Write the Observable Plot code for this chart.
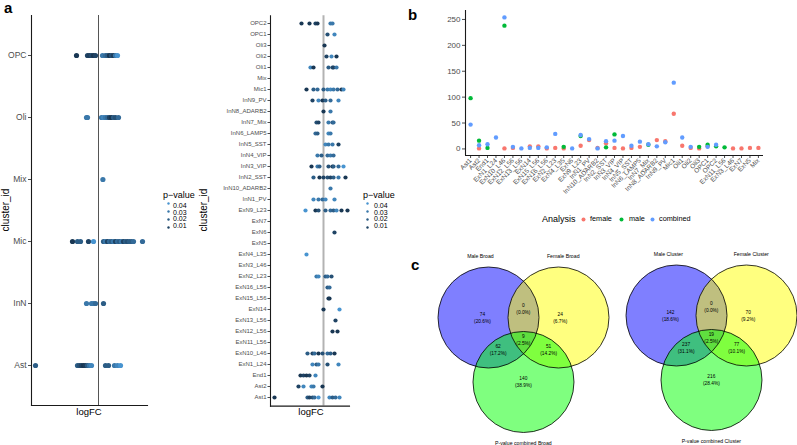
<!DOCTYPE html>
<html><head><meta charset="utf-8">
<script src="https://cdn.jsdelivr.net/npm/d3@7"></script>
<script src="https://cdn.jsdelivr.net/npm/@observablehq/plot@0.6"></script>
<style>
body{margin:0;width:797px;height:445px;overflow:hidden;background:#fff;position:relative;font-family:"Liberation Sans",Arial,sans-serif;}
.abs{position:absolute;}
.t{position:absolute;white-space:nowrap;line-height:1;color:#000;}
</style></head><body>
<script>
// ---------- Panel a (broad clusters) ----------
const broadClusters = ["OPC","Oli","Mix","Mic","InN","Ast"];
const broadLogFC = [
 [-1.1,-0.55,-0.45,-0.35,-0.25,-0.15,0.2,0.35,0.45,0.55,0.65,0.75,0.85,0.95],
 [-0.6,-0.55,0.15,0.25,0.35,0.45,0.55,0.65,0.75,0.85,1.0],
 [0.22],
 [-1.3,-1.05,-0.9,-0.5,-0.25,0.25,0.35,0.45,0.55,0.65,0.75,0.85,0.95,1.05,1.15,1.25,1.35,1.45,1.55,1.65,1.75,2.2],
 [-0.6,-0.35,-0.25,-0.15,0.25],
 [-3.15,-1.05,-0.95,-0.85,-0.75,-0.65,-0.55,-0.45,-0.35,0.35,0.5,0.8,0.95,1.1]
];
const broadP = [
 [0.005,0.01,0.008,0.012,0.005,0.01,0.03,0.025,0.02,0.005,0.015,0.008,0.03,0.04],
 [0.03,0.03,0.03,0.035,0.03,0.025,0.01,0.005,0.02,0.015,0.025],
 [0.03],
 [0.005,0.02,0.02,0.01,0.04,0.02,0.03,0.01,0.025,0.02,0.03,0.01,0.025,0.02,0.03,0.01,0.02,0.015,0.02,0.02,0.025,0.025],
 [0.03,0.03,0.03,0.025,0.02],
 [0.02,0.02,0.015,0.01,0.005,0.008,0.02,0.03,0.035,0.02,0.02,0.03,0.035,0.04]
];

// ---------- Panel a (sub clusters) ----------
const subClusters = ["OPC2","OPC1","Oli3","Oli2","Oli1","Mix","Mic1","InN9_PV","InN8_ADARB2","InN7_Mix","InN6_LAMP5","InN5_SST","InN4_VIP","InN3_VIP","InN2_SST","InN10_ADARB2","InN1_PV","ExN9_L23","ExN7","ExN6","ExN5","ExN4_L35","ExN3_L46","ExN2_L23","ExN16_L56","ExN15_L56","ExN14","ExN13_L56","ExN12_L56","ExN11_L56","ExN10_L46","ExN1_L24","End1","Ast2","Ast1"];
const subLogFC = [
 [-1.1,-0.7,-0.4,-0.3,0.35,0.45],
 [0.2,0.55],
 [0.05],
 [0.15,0.4,0.65],
 [-0.65,-0.5,0.25,0.45,0.5,0.65],
 [],
 [-0.85,-0.5,-0.3,0,0.2,0.35,0.5,0.7,0.9,1.0],
 [-0.55,-0.25,-0.05,0.1,0.35,0.75],
 [0,0.35],
 [-0.35,-0.25,0.25,0.45,0.5],
 [-0.4,-0.3,0.25,0.35],
 [0.1,0.25,0.45,0.75],
 [-0.3,-0.1,0.2,0.35,0.5],
 [-0.6,-0.3,-0.2,0.25,0.45,0.5,0.75,1.0],
 [-0.5,-0.2,0,0.2,0.35,0.5,0.75,1.1],
 [0.35],
 [-0.5,-0.25,-0.05,0.1,0.55],
 [-0.9,-0.4,-0.25,0.1,0.35,0.5,0.65,0.9,1.2],
 [],
 [0.55],
 [],
 [-0.85],
 [],
 [-0.35,-0.25,0.1,0.2,0.4],
 [0.2,0.3],
 [0.25,0.3],
 [0,0.8],
 [0.6],
 [0.45,0.7],
 [],
 [-0.8,-0.55,-0.45,-0.25,-0.05,0.2,0.35,0.55],
 [-0.55,-0.35,-0.25,0.2,0.75],
 [-1.15,-1.0,-0.85,-0.7,-0.4],
 [-1.25,-1.0,-0.6,-0.5,-0.05],
 [-2.45,-0.8,-0.7,-0.55,-0.45,-0.25,0.3,0.45,0.6,0.8]
];
const subP = [
 [0.005,0.005,0.01,0.005,0.03,0.03],
 [0.015,0.035],
 [0.005],
 [0.01,0.035,0.005],
 [0.035,0.005,0.02,0.015,0.01,0.03],
 [],
 [0.005,0.02,0.025,0.02,0.03,0.035,0.03,0.025,0.005,0.035],
 [0.01,0.035,0.005,0.02,0.025,0.035],
 [0.005,0.03],
 [0.015,0.01,0.03,0.02,0.025],
 [0.025,0.02,0.035,0.03],
 [0.035,0.03,0.03,0.01],
 [0.03,0.02,0.025,0.03,0.025],
 [0.005,0.03,0.02,0.015,0.005,0.02,0.025,0.04],
 [0.02,0.005,0.01,0.015,0.01,0.02,0.03,0.005],
 [0.03],
 [0.035,0.03,0.025,0.035,0.035],
 [0.04,0.005,0.015,0.02,0.025,0.02,0.035,0.005,0.005],
 [],
 [0.01],
 [],
 [0.04],
 [],
 [0.03,0.035,0.02,0.025,0.015],
 [0.02,0.025],
 [0.005,0.005],
 [0.005,0.04],
 [0.01],
 [0.005,0.005],
 [],
 [0.02,0.01,0.025,0.005,0.015,0.025,0.02,0.005],
 [0.035,0.02,0.03,0.015,0.035],
 [0.005,0.01,0.005,0.01,0.035],
 [0.01,0.035,0.035,0.03,0.005],
 [0.005,0.02,0.01,0.015,0.025,0.04,0.035,0.02,0.025,0.035]
];
const pLegendValues = [0.04,0.03,0.02,0.01];

// ---------- Panel b ----------
const bCategories = ["Ast1","Ast2","End1","ExN1_L24","ExN10_L46","ExN12_L56","ExN13_L56","ExN14","ExN15_L56","ExN16_L56","ExN2_L23","ExN4_L35","ExN6","ExN9_L23","InN1_PV","InN10_ADARB2","InN2_SST","InN3_VIP","InN4_VIP","InN5_SST","InN6_LAMP5","InN7_Mix","InN8_ADARB2","InN9_PV","Mic1","Oli1","Oli2","Oli3","OPC1","OPC2","ExN11_L56","ExN3_L46","ExN7","ExN5","Mix"];
const bFemale   = [null,1,null,null,1,2,null,5,5,1,2,1,null,6,17,2,11,2,1,2,4,null,17,15,68,6,2,1,5,null,null,1,1,2,2];
const bMale     = [98,16,2,null,238,null,null,null,null,null,null,4,null,25,null,null,3,28,null,null,null,8,null,null,null,null,null,4,8,5,3,null,null,null,null];
const bCombined = [47,7,9,22,254,4,1,2,2,3,29,null,1,27,19,1,15,16,25,6,14,9,5,13,128,22,4,null,4,8,null,null,null,null,null];
const analyses = ["female","male","combined"];
const yTicksB = [0,50,100,150,200,250];

// ---------- Panel c ----------
const vennBroadNames = ["Male Broad","Female Broad","P-value combined Broad"];
const vennBroadCounts = [74,0,24,9,62,51,140];
const vennBroadPct = ["20.6%","0.0%","6.7%","2.5%","17.2%","14.2%","38.9%"];
const vennClusterNames = ["Male Cluster","Female Cluster","P-value combined Cluster"];
const vennClusterCounts = [142,0,70,19,237,77,216];
const vennClusterPct = ["18.6%","0.0%","9.2%","2.5%","31.1%","10.1%","28.4%"];

// ---------- helpers ----------
const FONT = "Liberation Sans, Arial, sans-serif";
const pColor = {type:"linear", domain:[0,0.05], range:["#132B43","#56B1F7"], interpolate:"lab"};

function place(node, left, top){
  const d = document.createElement("div");
  d.className = "abs"; d.style.left = left+"px"; d.style.top = top+"px";
  d.appendChild(node); document.body.appendChild(d); return d;
}
function txt(s, x, y, o={}){
  const d = document.createElement("div");
  d.className = "t"; d.textContent = s;
  d.style.left = x+"px"; d.style.top = y+"px";
  d.style.fontSize = (o.size||9)+"px";
  if (o.weight) d.style.fontWeight = o.weight;
  if (o.color) d.style.color = o.color;
  const ax = o.anchor==="middle" ? "-50%" : o.anchor==="end" ? "-100%" : "0";
  d.style.transform = `translate(${ax},-50%)` + (o.rotate ? ` rotate(${o.rotate}deg)` : "");
  if (o.rotate) d.style.transformOrigin = "50% 50%";
  document.body.appendChild(d); return d;
}
function flatten(cats, xs, ps){
  return cats.flatMap((c,i)=> xs[i].map((v,j)=>({cluster:c, logFC:v, p:ps[i][j]})));
}
const axisLine = (anchor)=> Plot.frame({anchor, stroke:"#1a1a1a", strokeWidth:1.1});

// ---------- a left ----------
const aLeft = Plot.plot({
  width:150, height:420, marginLeft:31, marginRight:3, marginTop:15, marginBottom:15,
  style:{fontFamily:FONT, color:"#4d4d4d", background:"transparent", overflow:"visible"},
  x:{domain:[-3.35,2.45], axis:null},
  y:{type:"point", domain:broadClusters, padding:0.6, axis:null},
  color:pColor,
  marks:[
    Plot.ruleX([0], {stroke:"#555", strokeWidth:1}),
    Plot.dot(flatten(broadClusters, broadLogFC, broadP), {x:"logFC", y:"cluster", fill:"p", r:2.6}),
    Plot.axisY({tickSize:3, tickPadding:2, fontSize:8.5, label:null}),
    axisLine("left"), axisLine("bottom")
  ]
});
place(aLeft, 0, 0);

// ---------- a right ----------
const aRight = Plot.plot({
  width:162, height:420, marginLeft:80, marginRight:3, marginTop:15.3, marginBottom:14.4,
  style:{fontFamily:FONT, color:"#4d4d4d", background:"transparent", overflow:"visible"},
  x:{domain:[-2.65,1.3], axis:null},
  y:{type:"point", domain:subClusters, padding:0.6, axis:null},
  color:pColor,
  marks:[
    Plot.ruleX([0], {stroke:"#b3b3b3", strokeWidth:2}),
    Plot.dot(flatten(subClusters, subLogFC, subP), {x:"logFC", y:"cluster", fill:"p", r:2.1}),
    Plot.axisY({tickSize:2.5, tickPadding:1.5, fontSize:6, label:null}),
    axisLine("left"), axisLine("bottom")
  ]
});
place(aRight, 190, 0);

// axis titles for a
txt("cluster_id", 6, 210, {size:10, anchor:"middle", rotate:-90});
txt("logFC", 89, 412, {size:9.5, anchor:"middle"});
txt("cluster_id", 204, 210, {size:10, anchor:"middle", rotate:-90});
txt("logFC", 311, 412, {size:9.5, anchor:"middle"});

// p-value legends (built from the same colour mapping)
function pLegend(titleX, dotX, labelX){
  txt("p\u2212value", titleX, 195, {size:9});
  const lg = Plot.plot({
    width:12, height:30, margin:0,
    x:{domain:[0,1], axis:null},
    y:{type:"point", domain:pLegendValues, padding:0.3, axis:null},
    color:pColor,
    style:{background:"transparent", overflow:"visible"},
    marks:[Plot.dot(pLegendValues, {x:()=>0.5, y:d=>d, fill:d=>d, r:1.2})]
  });
  place(lg, dotX-6, 200);
  pLegendValues.forEach((v,i)=> txt(v.toFixed(2), labelX, 205+i*6.7, {size:7}));
}
pLegend(163, 168, 173);
pLegend(363, 367, 374);

// ---------- b (categories on an index scale with category tick labels) ----------
const bData = bCategories.flatMap((c,i)=>
  [bFemale[i], bMale[i], bCombined[i]].map((v,k)=>({idx:i, analysis:analyses[k], n:v})).filter(d=>d.n!=null));
const bXDomain = [-0.6, bCategories.length - 1 + 0.6];
const bYDomain = [-12.7, 267.3];
const bPlot = Plot.plot({
  width:380, height:205, marginLeft:65, marginRight:17, marginTop:10, marginBottom:50,
  style:{fontFamily:FONT, color:"#4d4d4d", background:"transparent", overflow:"visible"},
  x:{domain:bXDomain, axis:null},
  y:{domain:bYDomain, axis:null},
  color:{domain:analyses, range:["#F8766D","#00BA38","#619CFF"]},
  marks:[
    Plot.dot(bData, {x:"idx", y:"n", fill:"analysis", r:2.2}),
    Plot.axisY({ticks:yTicksB, tickSize:3, tickPadding:2, fontSize:8, label:null}),
    Plot.axisX({ticks:d3.range(bCategories.length), tickFormat:i=>bCategories[i], tickRotate:-45, tickSize:3, tickPadding:1, fontSize:6.5, label:null}),
    Plot.ruleX([bXDomain[0]], {stroke:"#1a1a1a", strokeWidth:1.1}),
    Plot.ruleY([bYDomain[0]], {stroke:"#1a1a1a", strokeWidth:1.1})
  ]
});
place(bPlot, 400, 0);

// b legend
txt("Analysis", 542, 219, {size:9});
const bLeg = Plot.plot({
  width:80, height:10, margin:0,
  x:{domain:[0,1], range:[0,80], axis:null},
  y:{domain:[0,1], axis:null},
  color:{domain:analyses, range:["#F8766D","#00BA38","#619CFF"]},
  style:{background:"transparent", overflow:"visible"},
  marks:[Plot.dot(analyses, {x:(d,i)=>[0.05,0.525,0.9125][i], y:()=>0.5, fill:d=>d, r:2})]
});
place(bLeg, 579, 214);
txt("female", 590, 219, {size:7.3});
txt("male", 629, 219, {size:7.3});
txt("combined", 659, 219, {size:7.3});

// ---------- c (Venn diagrams) ----------
const PX = 50.5; // pixels per circle radius
const vennCenters = [[0,0],[1.386,0],[0.693,1.277]];
const vennRegionPos = [[-0.12,0],[0.69,-0.18],[1.42,0],[0.69,0.43],[0.19,0.63],[1.19,0.63],[0.69,1.26]];
const vennNamePos = [[-0.16,-1.21],[1.48,-1.21],[0.69,2.49]];
const vennColors = ["#0000FF","#FFFF00","#00FF00"];

function venn(names, counts, pcts, W, H){
  const cx = 68, cy = 72;
  const sets = names.map((n,i)=>({name:n, x:vennCenters[i][0], y:vennCenters[i][1]}));
  const regions = counts.map((c,i)=>({label:`${c}\n(${pcts[i]})`, x:vennRegionPos[i][0], y:vennRegionPos[i][1]}));
  const nm = names.map((n,i)=>({name:n, x:vennNamePos[i][0], y:vennNamePos[i][1]}));
  return Plot.plot({
    width:W, height:H, margin:0,
    style:{fontFamily:FONT, background:"transparent", overflow:"visible"},
    x:{domain:[-cx/PX,(W-cx)/PX], range:[0,W], axis:null},
    y:{domain:[-cy/PX,(H-cy)/PX], range:[0,H], axis:null},
    color:{domain:names, range:vennColors},
    marks:[
      Plot.dot(sets, {x:"x", y:"y", r:PX, fill:"name", fillOpacity:0.5, stroke:null}),
      Plot.dot(sets, {x:"x", y:"y", r:PX, fill:"none", stroke:"#000", strokeWidth:0.8}),
      Plot.text(regions, {x:"x", y:"y", text:"label", fontSize:4.8, lineHeight:1.4, fill:"#000"}),
      Plot.text(nm, {x:"x", y:"y", text:"name", fontSize:5.2, fill:"#000"})
    ]
  });
}
place(venn(vennBroadNames, vennBroadCounts, vennBroadPct, 200, 200), 420, 245);
place(venn(vennClusterNames, vennClusterCounts, vennClusterPct, 189, 202), 608, 243);

// panel letters
txt("a", 4, 7, {size:15, weight:"bold"});
txt("b", 408, 14, {size:15, weight:"bold"});
txt("c", 411, 264, {size:15, weight:"bold"});
</script>
</body></html>
